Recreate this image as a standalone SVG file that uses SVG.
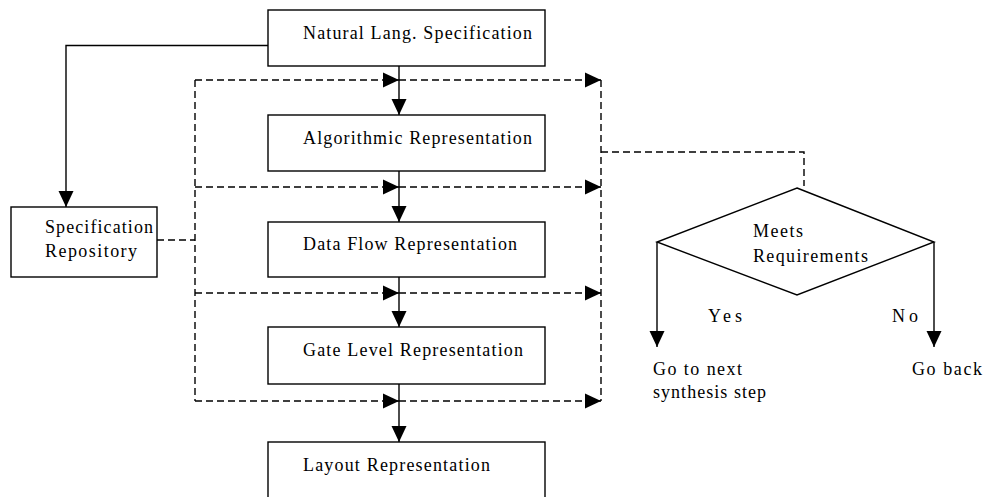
<svg xmlns="http://www.w3.org/2000/svg" width="984" height="497" viewBox="0 0 984 497">
<style>
  .box { fill: #fff; stroke: #000; stroke-width: 1.4; }
  .txt { font-family: "Liberation Serif", "Times New Roman", serif; font-size: 18px; fill: #000; }
  .solid { fill: none; stroke: #000; stroke-width: 1.4; }
  .dash { fill: none; stroke: #000; stroke-width: 1.4; stroke-dasharray: 7 4; }
</style>
<defs>
  <marker id="ah" markerUnits="userSpaceOnUse" markerWidth="16" markerHeight="15" refX="16" refY="7.5" orient="auto" overflow="visible">
    <path d="M0,0 L16,7.5 L0,15 Z" fill="#000"/>
  </marker>
</defs>
<rect width="984" height="497" fill="#fff"/>

<g id="connectors">
  <path class="solid" d="M268,45.5 H66 V207" marker-end="url(#ah)"/>
  <path class="solid" d="M399,66 V115" marker-end="url(#ah)"/>
  <path class="solid" d="M399,171 V222" marker-end="url(#ah)"/>
  <path class="solid" d="M399,277 V327" marker-end="url(#ah)"/>
  <path class="solid" d="M399,384 V442" marker-end="url(#ah)"/>
  <path class="dash" d="M157,240 H195"/>
  <path class="dash" d="M195,80 V401"/>
  <path class="dash" d="M601,80 V401"/>
  <path class="dash" d="M195,80 H399" marker-end="url(#ah)"/>
  <path class="dash" d="M399,80 H601" marker-end="url(#ah)"/>
  <path class="dash" d="M195,187 H399" marker-end="url(#ah)"/>
  <path class="dash" d="M399,187 H601" marker-end="url(#ah)"/>
  <path class="dash" d="M195,293 H399" marker-end="url(#ah)"/>
  <path class="dash" d="M399,293 H601" marker-end="url(#ah)"/>
  <path class="dash" d="M195,401 H399" marker-end="url(#ah)"/>
  <path class="dash" d="M399,401 H601" marker-end="url(#ah)"/>
  <path class="dash" d="M601,152 H804 V186"/>
  <path class="solid" d="M657,242 V347" marker-end="url(#ah)"/>
  <path class="solid" d="M934,242 V347" marker-end="url(#ah)"/>
</g>

<g id="natural">
  <rect class="box" x="268" y="10" width="277" height="56"/>
  <text class="txt" x="303" y="39" textLength="229" lengthAdjust="spacing">Natural Lang. Specification</text>
</g>
<g id="repository">
  <rect class="box" x="11" y="207" width="146" height="70"/>
  <text class="txt" x="45" y="233" textLength="108" lengthAdjust="spacing">Specification</text>
  <text class="txt" x="45" y="257" textLength="92" lengthAdjust="spacing">Repository</text>
</g>
<g id="algorithmic">
  <rect class="box" x="268" y="115" width="277" height="56"/>
  <text class="txt" x="303" y="144" textLength="229" lengthAdjust="spacing">Algorithmic Representation</text>
</g>
<g id="dataflow">
  <rect class="box" x="268" y="222" width="277" height="55"/>
  <text class="txt" x="303" y="250" textLength="214" lengthAdjust="spacing">Data Flow Representation</text>
</g>
<g id="gate">
  <rect class="box" x="268" y="327" width="277" height="57"/>
  <text class="txt" x="303" y="356" textLength="220" lengthAdjust="spacing">Gate Level Representation</text>
</g>
<g id="layout">
  <rect class="box" x="268" y="442" width="277" height="70"/>
  <text class="txt" x="303" y="471" textLength="187" lengthAdjust="spacing">Layout Representation</text>
</g>
<g id="decision">
  <polygon class="box" points="797,188 934,242 797,295 657,242" stroke-width="1.1"/>
  <text class="txt" x="753" y="237" textLength="50" lengthAdjust="spacing">Meets</text>
  <text class="txt" x="753" y="262" textLength="115" lengthAdjust="spacing">Requirements</text>
</g>
<g id="labels">
  <text class="txt" x="708" y="322" textLength="34" lengthAdjust="spacing">Yes</text>
  <text class="txt" x="892" y="322" textLength="26" lengthAdjust="spacing">No</text>
  <text class="txt" x="653" y="375" textLength="89" lengthAdjust="spacing">Go to next</text>
  <text class="txt" x="653" y="398" textLength="113" lengthAdjust="spacing">synthesis step</text>
  <text class="txt" x="912" y="375" textLength="70" lengthAdjust="spacing">Go back</text>
</g>
</svg>
